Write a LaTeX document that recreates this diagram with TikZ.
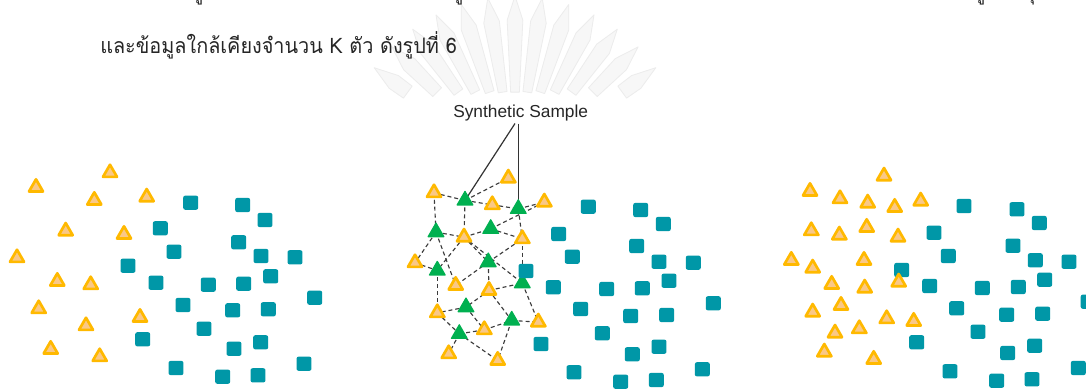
\documentclass[tikz,border=0pt]{standalone}
\usepackage{fontspec}
\setmainfont{Liberation Sans}
\newfontfamily\thaifont[Script=Thai,FakeStretch=0.93]{Loma}
\usetikzlibrary{shapes.geometric,backgrounds}
\definecolor{ored}{RGB}{255,185,0}
\definecolor{olight}{RGB}{250,200,135}
\definecolor{tgreen}{RGB}{0,176,80}
\definecolor{sqcol}{RGB}{0,151,167}
\definecolor{edgecol}{RGB}{60,60,60}
\definecolor{wmark}{RGB}{247,247,247}
\definecolor{wmarkline}{RGB}{236,236,236}
\tikzset{
  otri/.style={regular polygon, regular polygon sides=3, draw=ored, fill=olight, line width=2pt, line join=round, inner sep=0pt, minimum size=12.2pt, yshift=-1.6pt},
  gtri/.style={regular polygon, regular polygon sides=3, fill=tgreen, draw=tgreen, line width=0.9pt, line join=round, inner sep=0pt, minimum size=13.6pt, yshift=-1.6pt},
  sq/.style={rectangle, fill=sqcol, rounded corners=1.5pt, minimum width=11.2pt, minimum height=10.6pt, inner sep=0pt},
  dedge/.style={draw=edgecol, dash pattern=on 3pt off 2.2pt, line width=0.85pt},
  sline/.style={draw=black!80, line width=0.9pt},
  frag/.style={anchor=base, inner sep=0pt, font=\thaifont\fontsize{16}{19}\selectfont, text=black!85}
}
\begin{document}
\begin{tikzpicture}[x=0.75pt,y=-0.75pt]
\useasboundingbox (0,0) rectangle (1086,390);

% cut-off previous line of text
\begin{scope}
\clip (0,0) rectangle (1086,390);
\node[frag] (f1) at (198,-1) {รู};
\node[frag] (f2) at (458,-1) {รู};
\node[frag] (f3) at (980,-1) {รู};
\node[frag] (f4) at (1030,-1) {รุ};
\end{scope}

\node[anchor=base west, inner sep=0pt, font=\thaifont\fontsize{16}{19}\selectfont, text=black!85] (th) at (100,53.5) {และข้อมูลใกล้เคียงจำนวน K ตัว ดังรูปที่ 6};

% left panel
\foreach \x/\y [count=\i] in {110/170.7,36/185.3,94.3/198.3,146.7/195,65.7/229,124/232.3,17/255.7,57.3/279.3,90.7/282.7,38.7/306.7,86/323.7,140/315.3,50.7/347.3,99.7/354.7}
  \node[otri] (lt\i) at (\x,\y) {};
\foreach \x/\y [count=\i] in {190.7/202.7,242.7/205,265/220,160.3/228.3,238.7/242.3,174/251.7,261/256,295/257.3,128/265.7,156/282.7,208.3/284.7,243.7/283.7,270.7/276.3,314.7/297.7,183/305,232.7/310.3,268.3/309.3,204/328.7,142.7/339.3,234/348.7,260.7/342.3,304/363.7,176/368,222.7/376.7,258/375.3}
  \node[sq] (ls\i) at (\x,\y) {};

% middle panel
\foreach \x/\y [count=\i] in {434/190.7,508.3/176,492.3/202.7,544.3/200,464/235,522.3/236.7,415/260.7,455.7/283.3,489/288.3,437.3/310.7,484.3/327.7,538.3/320,448.7/351.7,497.7/358.3}
  \node[otri] (mo\i) at (\x,\y) {};
\foreach \x/\y [count=\i] in {465/198.3,518.3/206.7,436/230,490.7/226.7,437.3/268.3,488.3/260,522.3/281,466/305,511.7/318.3,459.3/331.7}
  \node[gtri] (mg\i) at (\x,\y) {};
\foreach \x/\y [count=\i] in {588.3/206.7,640.7/210,663.3/224,558.7/234,636.7/246,572.3/256.7,659/261.7,693.3/262.7,526/271,553.3/287.3,606.7/289,642.3/288.3,669/280.7,713.3/303.3,580.7/309,630.7/316,666.7/315,602.3/333.3,541/344,632.3/354.3,659/346.7,702.3/369.3,574/372.3,620.7/381.7,656.3/380}
  \node[sq] (ms\i) at (\x,\y) {};

\node[font=\fontsize{13}{15}\selectfont, text=black!85, inner sep=1pt] (ss) at (520.7,112.7) {Synthetic Sample};
\coordinate (ssa) at (515,123.5);
\coordinate (ssb) at (518.3,123.5);

% right panel
\foreach \x/\y [count=\i] in {884/174,810/189.3,840/196.7,867.7/201,894.7/205.3,920.7/199,811.3/228.7,839.3/233,866.7/225.3,898/235,791.3/258.3,812.7/266,864/258.3,831.7/282.3,864.7/286,812.7/310,841/303.3,886.7/316.7,913.7/319.3,835/331,859.3/326.7,824.3/350,873.7/357.3}
  \node[otri] (rt\i) at (\x,\y) {};
\foreach \x/\y [count=\i] in {964/206,1017/209.3,1039.3/223,934/232.7,1013/245.7,948.3/256,1035.3/260.3,1069/261.7,901.7/270,929.7/286,982.3/288,1018.3/287,1044.7/279.7,1088.2/301.7,956.7/308.3,1006.7/314.7,1042.7/313.7,978/331.7,916.7/342.3,1007.7/353,1034.7/345.7,1078.3/368,950/371.3,996.7/380.7,1032/379.3}
  \node[sq] (rs\i) at (\x,\y) {};
\node[otri] (rt24) at (898.7,280) {};

\begin{pgfonlayer}{background}
\fill[white] (0,0) rectangle (1086,390);
% faint watermark
\begin{scope}[shift={(515,170)}]
\foreach \a in {36,45,...,144} {
  \pgfmathsetmacro{\ra}{78/sin(\a)}
  \filldraw[fill=wmark, draw=wmarkline, line width=0.6pt, line join=round]
    (-\a-3.2:\ra) -- (-\a-3.0:150) -- (-\a:174) -- (-\a+3.0:150) -- (-\a+3.2:\ra) -- cycle;
}
\end{scope}
% connectors
\draw[sline] (ssa) -- (mg1.center);
\draw[sline] (ssb) -- (mg2.center);
\foreach \a/\b in {mo1/mg1,mg1/mo2,mg1/mo3,mo3/mg2,mg2/mo4,mo1/mg3,mg1/mo5,mg3/mo5,mo5/mg4,mg4/mo4,mg4/mo6,mg2/mo6,mo6/mg7,mg3/mo7,mo7/mg5,mg3/mo8,mo5/mg5,mo5/mg6,mo5/mg7,mg6/mo6,mg6/mo8,mg6/mo9,mo9/mg7,mo9/mg8,mo9/mg9,mg5/mo10,mg8/mo10,mg8/mo11,mo10/mg10,mg10/mo11,mg10/mo13,mg10/mo14,mo11/mg9,mg9/mo12,mg9/mo14,mg7/mo12}
  \draw[dedge] (\a.center) -- (\b.center);
\end{pgfonlayer}
\end{tikzpicture}
\end{document}
